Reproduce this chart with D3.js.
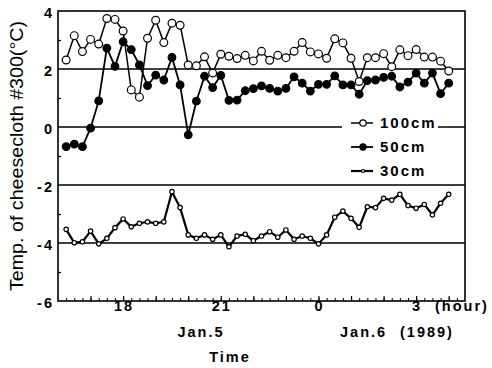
<!DOCTYPE html>
<html>
<head>
<meta charset="utf-8">
<script src="https://cdn.jsdelivr.net/npm/d3@7"></script>
<style>
  body { margin: 0; background: #fff; }
  svg text { font-family: "Liberation Sans", Arial, sans-serif; fill: #000; }
  .bold { font-weight: bold; letter-spacing: 2px; }
</style>
</head>
<body>
<svg id="chart" width="492" height="368"></svg>
<script>
// readings every 15 minutes, first one at 16:15 on Jan.5
const startHour = 16.25;
const stepHours = 0.25;

const temp100 = [2.31, 3.15, 2.60, 3.02, 2.86, 3.74, 3.71, 3.31, 1.28, 1.03,
  3.06, 3.68, 2.91, 3.58, 3.51, 2.14, 2.11, 2.42, 1.86, 2.51,
  2.44, 2.36, 2.47, 2.28, 2.61, 2.30, 2.47, 2.39, 2.61, 2.91,
  2.59, 2.52, 2.37, 3.04, 2.90, 2.37, 1.57, 2.39, 2.39, 2.53,
  2.08, 2.66, 2.46, 2.67, 2.41, 2.41, 2.27, 1.93];

const temp50 = [-0.68, -0.59, -0.68, -0.04, 0.90, 2.72, 2.09, 2.94, 2.67, 2.14,
  1.43, 1.79, 1.62, 2.40, 1.45, -0.27, 0.89, 1.75, 1.36, 1.78,
  0.92, 0.93, 1.25, 1.32, 1.42, 1.33, 1.24, 1.33, 1.73, 1.51,
  1.24, 1.47, 1.47, 1.76, 1.45, 1.45, 1.13, 1.60, 1.62, 1.71,
  1.75, 1.38, 1.55, 1.86, 1.51, 1.86, 1.15, 1.51];

const temp30 = [-3.53, -3.99, -3.96, -3.59, -4.03, -3.84, -3.47, -3.17, -3.44, -3.32,
  -3.27, -3.32, -3.27, -2.23, -2.78, -3.72, -3.84, -3.72, -3.87, -3.72,
  -4.13, -3.76, -3.70, -3.92, -3.76, -3.61, -3.80, -3.55, -3.87, -3.76,
  -3.84, -4.03, -3.72, -3.11, -2.90, -3.15, -3.46, -2.75, -2.78, -2.46,
  -2.52, -2.32, -2.71, -2.80, -2.67, -3.03, -2.63, -2.32];

const xTickHours = [18, 21, 24, 27];
const xTickLabels = ["18", "21", "0", "3"];
const yTicks = [4, 2, 0, -2, -4, -6];
const yMinor = [3, 1, -1, -3, -5];
const gridValues = [2, 0, -2, -4];
const seriesNames = ["100cm", "50cm", "30cm"];

const svg = d3.select("#chart");
const plotLeft = 58, plotRight = 465, plotTop = 11, plotBottom = 301;

const x = d3.scaleLinear().domain([16, 28.5]).range([plotLeft, plotRight]);
const y = d3.scaleLinear().domain([-6, 4]).range([plotBottom, plotTop]);

// grid lines across the plot
svg.append("g").selectAll("line")
  .data(gridValues)
  .join("line")
  .attr("x1", plotLeft).attr("x2", plotRight)
  .attr("y1", d => y(d)).attr("y2", d => y(d))
  .attr("stroke", "#000").attr("stroke-width", 1.3);

// x ticks, inward
const quarterTicks = d3.range(16.25, 28.5, 0.25);
const hourTicks = d3.range(17, 29, 1);
svg.append("g")
  .attr("transform", "translate(0," + plotBottom + ")")
  .call(d3.axisBottom(x).tickValues(quarterTicks).tickSize(-3).tickFormat(""))
  .call(g => g.select(".domain").remove())
  .selectAll("line").attr("stroke-width", 1);
svg.append("g")
  .attr("transform", "translate(0," + plotBottom + ")")
  .call(d3.axisBottom(x).tickValues(hourTicks).tickSize(-5).tickFormat(""))
  .call(g => g.select(".domain").remove())
  .selectAll("line").attr("stroke-width", 1.2);

// y minor ticks
svg.append("g")
  .attr("transform", "translate(" + plotLeft + ",0)")
  .call(d3.axisLeft(y).tickValues(yMinor).tickSize(-3).tickFormat(""))
  .call(g => g.select(".domain").remove())
  .selectAll("line").attr("stroke-width", 1.2);

// frame
svg.append("rect")
  .attr("x", plotLeft).attr("y", plotTop)
  .attr("width", plotRight - plotLeft).attr("height", plotBottom - plotTop)
  .attr("fill", "none").attr("stroke", "#000").attr("stroke-width", 1.6);

// y tick labels
svg.append("g").selectAll("text")
  .data(yTicks)
  .join("text")
  .attr("class", "bold")
  .attr("x", 54)
  .attr("y", d => y(d) + 7)
  .attr("text-anchor", "end")
  .attr("font-size", 14.5)
  .text(d => d < 0 ? "-" + Math.abs(d) : d);

// x tick labels
svg.append("g").selectAll("text")
  .data(xTickHours)
  .join("text")
  .attr("class", "bold")
  .attr("x", d => x(d) + 1)
  .attr("y", 311)
  .attr("text-anchor", "middle")
  .attr("font-size", 14.5)
  .text((d, i) => xTickLabels[i]);

svg.append("text").attr("class", "bold").attr("x", 435).attr("y", 311)
  .attr("font-size", 14.5).text("(hour)");
svg.append("text").attr("class", "bold").attr("x", 201).attr("y", 337)
  .attr("text-anchor", "middle").attr("font-size", 14.5).text("Jan.5");
svg.append("text").attr("class", "bold").attr("x", 340).attr("y", 337)
  .attr("font-size", 14.5).text("Jan.6");
svg.append("text").attr("class", "bold").attr("x", 400).attr("y", 337)
  .attr("font-size", 14.5).text("(1989)");
svg.append("text").attr("class", "bold").attr("x", 230).attr("y", 362)
  .attr("text-anchor", "middle").attr("font-size", 14.5).text("Time");

// y axis title
svg.append("text")
  .attr("transform", "translate(23,156) rotate(-90)")
  .attr("text-anchor", "middle")
  .attr("font-size", 19)
  .attr("textLength", 270)
  .attr("lengthAdjust", "spacingAndGlyphs")
  .text("Temp. of cheesecloth #300(\u00B0C)");

// series
const xOf = (d, i) => x(startHour + i * stepHours);
const line = d3.line().x(xOf).y(d => y(d));

const series = [
  { name: seriesNames[0], values: temp100, r: 3.9, fill: "#fff", width: 1.5 },
  { name: seriesNames[1], values: temp50, r: 3.8, fill: "#000", width: 1.8 },
  { name: seriesNames[2], values: temp30, r: 2.2, fill: "#fff", width: 2.2 }
];

series.forEach(s => {
  svg.append("path")
    .datum(s.values)
    .attr("d", line)
    .attr("fill", "none")
    .attr("stroke", "#000")
    .attr("stroke-width", s.width);
  svg.append("g").selectAll("circle")
    .data(s.values)
    .join("circle")
    .attr("cx", xOf)
    .attr("cy", d => y(d))
    .attr("r", s.r)
    .attr("fill", s.fill)
    .attr("stroke", "#000")
    .attr("stroke-width", 1.2);
});

// legend
const legend = svg.append("g");
legend.append("rect")
  .attr("x", 342).attr("y", 116).attr("width", 96).attr("height", 64)
  .attr("fill", "#fff");
const legendY = [123, 147, 171];
series.forEach((s, i) => {
  legend.append("line")
    .attr("x1", 351).attr("x2", 373)
    .attr("y1", legendY[i]).attr("y2", legendY[i])
    .attr("stroke", "#000").attr("stroke-width", s.width);
  legend.append("circle")
    .attr("cx", 363).attr("cy", legendY[i])
    .attr("r", s.r - 0.7)
    .attr("fill", s.fill).attr("stroke", "#000").attr("stroke-width", 1.2);
  legend.append("text")
    .attr("class", "bold")
    .attr("x", 380).attr("y", legendY[i] + 5)
    .attr("font-size", 15)
    .text(s.name);
});
</script>
</body>
</html>
